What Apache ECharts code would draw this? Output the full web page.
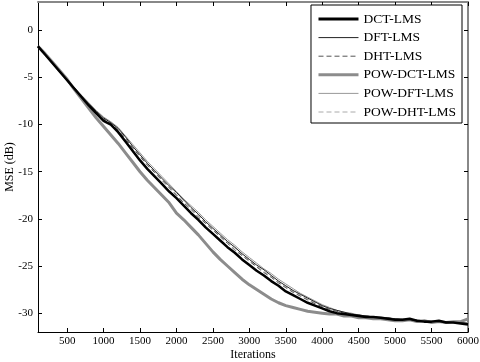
<!DOCTYPE html>
<html>
<head>
<meta charset="utf-8">
<script src="https://cdn.jsdelivr.net/npm/echarts@6/dist/echarts.min.js"></script>
<style>
  html, body { margin: 0; padding: 0; background: #fff; }
  #chart { width: 480px; height: 362px; }
</style>
</head>
<body>
<div id="chart"></div>
<script>
// iterations sampled every 100
var iterations = [100,200,300,400,500,600,700,800,900,1000,1100,1200,1300,1400,1500,1600,1700,1800,1900,2000,
  2100,2200,2300,2400,2500,2600,2700,2800,2900,3000,3100,3200,3300,3400,3500,3600,3700,3800,3900,4000,
  4100,4200,4300,4400,4500,4600,4700,4800,4900,5000,5100,5200,5300,5400,5500,5600,5700,5800,5900,6000]

var dctLms = [-1.7,-2.6,-3.5,-4.4,-5.3,-6.2,-7.1,-8.0,-8.8,-9.6,-10.0,-10.8,-11.8,-12.8,-13.8,-14.7,-15.5,-16.3,-17.1,-17.8,
  -18.6,-19.4,-20.1,-20.9,-21.6,-22.3,-23.0,-23.6,-24.3,-24.9,-25.5,-26.0,-26.6,-27.1,-27.7,-28.1,-28.5,-28.9,-29.2,-29.5,
  -29.8,-30.0,-30.1,-30.2,-30.3,-30.4,-30.4,-30.5,-30.6,-30.7,-30.7,-30.6,-30.8,-30.9,-30.9,-30.8,-31.0,-31.0,-31.1,-31.2]
var dftLms = [-1.7,-2.6,-3.5,-4.4,-5.2,-6.1,-7.0,-7.8,-8.6,-9.3,-9.8,-10.4,-11.3,-12.3,-13.2,-14.1,-14.9,-15.7,-16.5,-17.2,
  -18.0,-18.8,-19.5,-20.3,-21.0,-21.7,-22.4,-23.0,-23.7,-24.3,-24.9,-25.4,-26.0,-26.6,-27.1,-27.6,-28.0,-28.4,-28.8,-29.2,
  -29.5,-29.7,-29.9,-30.1,-30.2,-30.3,-30.4,-30.5,-30.5,-30.6,-30.7,-30.7,-30.8,-30.8,-30.9,-30.9,-30.9,-31.0,-31.0,-31.1]
var dhtLms = [-1.7,-2.6,-3.5,-4.4,-5.3,-6.2,-7.0,-7.9,-8.7,-9.4,-9.9,-10.6,-11.5,-12.5,-13.4,-14.3,-15.1,-15.9,-16.7,-17.5,
  -18.3,-19.0,-19.8,-20.5,-21.2,-21.9,-22.6,-23.3,-23.9,-24.5,-25.1,-25.7,-26.2,-26.8,-27.3,-27.8,-28.2,-28.6,-29.0,-29.3,
  -29.6,-29.8,-30.0,-30.1,-30.2,-30.3,-30.4,-30.5,-30.6,-30.6,-30.7,-30.7,-30.8,-30.8,-30.9,-30.9,-31.0,-31.0,-31.0,-31.1]
var powDctLms = [-1.7,-2.5,-3.4,-4.3,-5.2,-6.3,-7.3,-8.3,-9.3,-10.2,-11.1,-12.0,-13.0,-14.0,-15.0,-15.9,-16.7,-17.5,-18.3,-19.4,
  -20.1,-20.9,-21.7,-22.6,-23.5,-24.3,-25.0,-25.7,-26.4,-27.0,-27.5,-28.0,-28.5,-28.9,-29.2,-29.4,-29.6,-29.8,-29.9,-30.0,
  -30.1,-30.1,-30.3,-30.3,-30.5,-30.5,-30.6,-30.6,-30.7,-30.8,-30.8,-30.7,-30.9,-30.8,-31.0,-30.9,-31.0,-30.9,-30.9,-30.6]
var powDftLms = [-1.7,-2.6,-3.5,-4.4,-5.2,-6.1,-6.9,-7.7,-8.5,-9.2,-9.7,-10.3,-11.2,-12.1,-13.0,-13.9,-14.7,-15.5,-16.3,-17.1,
  -17.9,-18.6,-19.3,-20.1,-20.8,-21.5,-22.2,-22.8,-23.5,-24.1,-24.7,-25.3,-25.8,-26.4,-26.9,-27.4,-27.9,-28.3,-28.7,-29.1,
  -29.4,-29.7,-29.9,-30.0,-30.2,-30.3,-30.4,-30.4,-30.5,-30.6,-30.6,-30.7,-30.7,-30.8,-30.8,-30.9,-30.9,-30.9,-31.0,-31.0]
var powDhtLms = [-1.7,-2.6,-3.5,-4.4,-5.3,-6.1,-7.0,-7.8,-8.6,-9.3,-9.8,-10.5,-11.4,-12.4,-13.3,-14.2,-15.0,-15.8,-16.6,-17.4,
  -18.1,-18.9,-19.6,-20.4,-21.1,-21.8,-22.5,-23.1,-23.8,-24.4,-25.0,-25.6,-26.1,-26.7,-27.2,-27.7,-28.1,-28.5,-28.9,-29.2,
  -29.5,-29.8,-30.0,-30.1,-30.2,-30.3,-30.4,-30.5,-30.5,-30.6,-30.6,-30.7,-30.8,-30.8,-30.8,-30.9,-30.9,-31.0,-31.0,-31.1]

var xTicks = [500,1000,1500,2000,2500,3000,3500,4000,4500,5000,5500,6000]
var yTicks = [0,-5,-10,-15,-20,-25,-30]

function pairs(ys) {
  var out = []
  var n = Math.min(iterations.length, ys.length)
  for (var i = 0; i < n; i++) out.push([iterations[i], ys[i]])
  return out
}

var serif = 'Liberation Serif'
var chart = echarts.init(document.getElementById('chart'))

// line looks, shared by series and legend entries
var looks = {
  'DCT-LMS':     { color: '#000',    width: 3, type: 'solid' },
  'DFT-LMS':     { color: '#222',    width: 1, type: 'solid' },
  'DHT-LMS':     { color: '#555',    width: 1, type: [5, 3] },
  'POW-DCT-LMS': { color: '#8c8c8c', width: 3, type: 'solid' },
  'POW-DFT-LMS': { color: '#999',    width: 1, type: 'solid' },
  'POW-DHT-LMS': { color: '#aaa',    width: 1, type: [5, 3] }
}
var order = ['DCT-LMS', 'DFT-LMS', 'DHT-LMS', 'POW-DCT-LMS', 'POW-DFT-LMS', 'POW-DHT-LMS']

function mkAxis(extra) {
  var base = {
    type: 'value',
    axisLine: { show: true, onZero: false, lineStyle: { color: '#000', width: 1 } },
    splitLine: { show: false }
  }
  return Object.assign(base, extra)
}
function plain(v) { return String(v) }

function mkSeries(name, ys, z) {
  var lk = looks[name]
  return {
    name: name, type: 'line', symbol: 'none', z: z,
    lineStyle: { color: lk.color, width: name === 'DCT-LMS' ? 2.5 : lk.width, type: lk.type },
    itemStyle: { color: lk.color },
    data: pairs(ys)
  }
}

chart.setOption({
  animation: false,
  backgroundColor: '#fff',
  grid: { left: 38, right: 12, top: 2, bottom: 30, outerBoundsMode: 'none', containLabel: false },
  xAxis: [
    mkAxis({
      min: 100, max: 6000,
      name: 'Iterations', nameLocation: 'middle', nameGap: 17, nameMoveOverlap: false,
      nameTextStyle: { color: '#000', fontFamily: serif, fontSize: 12 },
      axisTick: { show: true, inside: true, length: 4, lineStyle: { color: '#000' }, customValues: xTicks },
      axisLabel: { color: '#000', fontFamily: serif, fontSize: 11, margin: 4, customValues: xTicks, formatter: plain }
    }),
    mkAxis({
      min: 100, max: 6000, position: 'top',
      axisLine: { show: true, onZero: false, lineStyle: { color: '#888', width: 2 } },
      axisTick: { show: true, inside: true, length: 4, lineStyle: { color: '#000' }, customValues: xTicks },
      axisLabel: { show: false }
    })
  ],
  yAxis: [
    mkAxis({
      min: -32, max: 3,
      name: 'MSE (dB)', nameLocation: 'middle', nameGap: 22, nameMoveOverlap: false,
      nameTextStyle: { color: '#000', fontFamily: serif, fontSize: 12 },
      axisTick: { show: true, inside: true, length: 4, lineStyle: { color: '#000' }, customValues: yTicks },
      axisLabel: { color: '#000', fontFamily: serif, fontSize: 11, margin: 5, customValues: yTicks, formatter: plain }
    }),
    mkAxis({
      min: -32, max: 3, position: 'right',
      axisLine: { show: true, onZero: false, lineStyle: { color: '#888', width: 2 } },
      axisTick: { show: true, inside: true, length: 4, lineStyle: { color: '#000' }, customValues: yTicks },
      axisLabel: { show: false }
    })
  ],
  legend: {
    orient: 'vertical',
    right: 18, top: 5,
    itemWidth: 40, itemHeight: 12, itemGap: 4.6,
    padding: [7, 6, 4, 6],
    backgroundColor: '#fff',
    borderColor: '#000', borderWidth: 1, borderRadius: 0,
    itemStyle: { color: 'transparent', borderColor: 'transparent', borderWidth: 0, opacity: 0 },
    textStyle: { color: '#000', fontFamily: serif, fontSize: 13.5 },
    data: order.map(function (n) {
      var lk = looks[n]
      return { name: n, lineStyle: { color: lk.color, width: lk.width, type: lk.type } }
    })
  },
  series: [
    mkSeries('POW-DCT-LMS', powDctLms, 2),
    mkSeries('POW-DFT-LMS', powDftLms, 3),
    mkSeries('POW-DHT-LMS', powDhtLms, 3),
    mkSeries('DFT-LMS', dftLms, 4),
    mkSeries('DHT-LMS', dhtLms, 4),
    mkSeries('DCT-LMS', dctLms, 5)
  ]
})
</script>
</body>
</html>
